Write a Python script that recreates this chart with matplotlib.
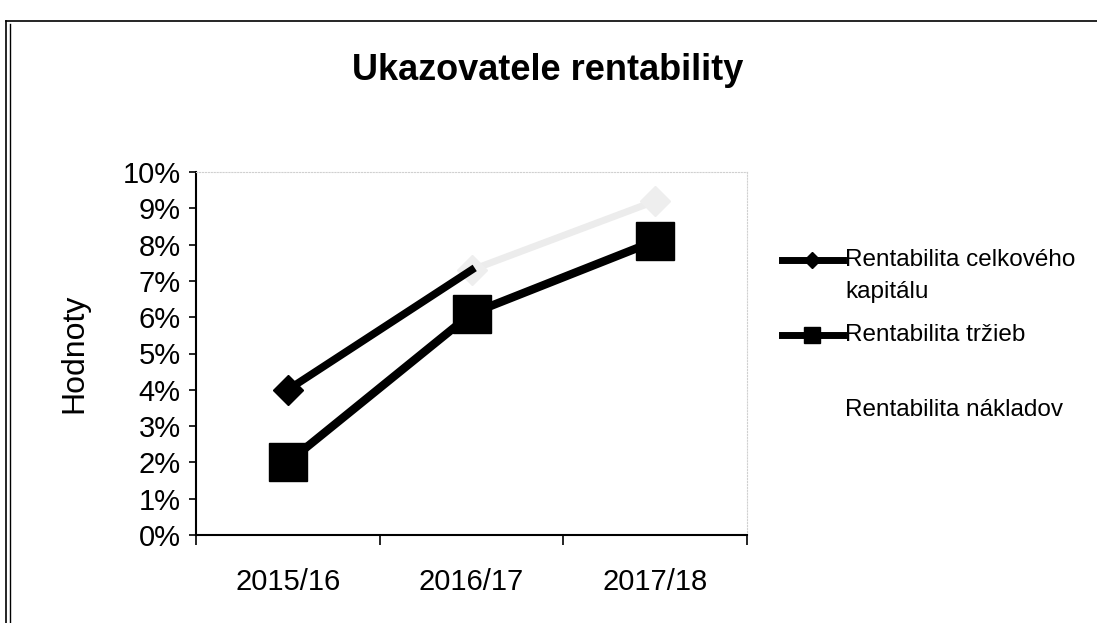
import matplotlib
matplotlib.use("Agg")
import matplotlib.pyplot as plt
from matplotlib.lines import Line2D

plt.rcParams['font.family'] = ['Liberation Sans', 'DejaVu Sans']

years = ['2015/16', '2016/17', '2017/18']
kapital = [4.0, 7.3, 9.2]      # Rentabilita celkového kapitálu
trzby = [2.0, 6.1, 8.1]        # Rentabilita tržieb
naklady = [None, None, None]   # Rentabilita nákladov (not visible)
yticks = [0, 1, 2, 3, 4, 5, 6, 7, 8, 9, 10]

W, H = 1097, 623
fig = plt.figure(figsize=(10.97, 6.23), dpi=100)
ax = fig.add_axes([196/W, 1 - 535/H, (747-196)/W, (535-172)/H])

x = [0.5, 1.5, 2.5]

# faded part of the scanned first series
ax.plot(x[1:], kapital[1:], color='#ececec', lw=5, marker='D', ms=15,
        markerfacecolor='#eeeeee', markeredgecolor='#eeeeee', zorder=2)
ax.plot(x[:2], kapital[:2], color='black', lw=5.5, zorder=3)
ax.plot(x[:1], kapital[:1], color='black', marker='D', ms=15, ls='none', zorder=4)
ax.plot(x, trzby, color='black', lw=6, marker='s', ms=27, zorder=5)

ax.set_xlim(0, 3)
ax.set_ylim(0, 10)
ax.set_yticks(yticks)
ax.set_yticklabels([f'{v}%' for v in yticks], fontsize=21)
ax.set_xticks([0, 1, 2, 3])
ax.set_xticklabels([])
ax.set_xticks(x, minor=True)
ax.set_xticklabels(years, minor=True, fontsize=21)
ax.tick_params(axis='x', which='minor', length=0, pad=24)
ax.tick_params(axis='x', which='major', length=7, direction='out', width=1.2)
ax.tick_params(axis='y', length=5, direction='out', width=1.2, pad=6)

for s in ['left', 'bottom']:
    ax.spines[s].set_linewidth(1.5)
for s in ['top', 'right']:
    ax.spines[s].set_color('#d0d0d0')
    ax.spines[s].set_linestyle(':')
    ax.spines[s].set_linewidth(0.8)

ax.set_ylabel('Hodnoty', fontsize=23, labelpad=24)

fig.text(548/W, 1 - 70/H, 'Ukazovatele rentability', ha='center', va='center',
         fontsize=26, fontweight='bold')

# legend, placed by hand
fig.add_artist(Line2D([782/W, 843/W], [1 - 260/H] * 2, color='black', lw=5))
fig.add_artist(Line2D([812/W], [1 - 260/H], color='black', marker='D', ms=8))
fig.add_artist(Line2D([782/W, 843/W], [1 - 335/H] * 2, color='black', lw=5))
fig.add_artist(Line2D([812/W], [1 - 335/H], color='black', marker='s', ms=12))
legend_rows = [('Rentabilita celkového', 260), ('kapitálu', 292),
               ('Rentabilita tržieb', 335), ('Rentabilita nákladov', 410)]
for txt, yy in legend_rows:
    fig.text(845/W, 1 - yy/H, txt, ha='left', va='center', fontsize=17.5)

# scanned page border
fig.add_artist(Line2D([6/W, 6/W], [0, 1 - 21/H], color='black', lw=1.2))
fig.add_artist(Line2D([10/W, 10/W], [0, 1 - 24/H], color='black', lw=1))
fig.add_artist(Line2D([6/W, 1], [1 - 21/H, 1 - 21/H], color='black', lw=1.2))

fig.savefig('out.png', dpi=100)
